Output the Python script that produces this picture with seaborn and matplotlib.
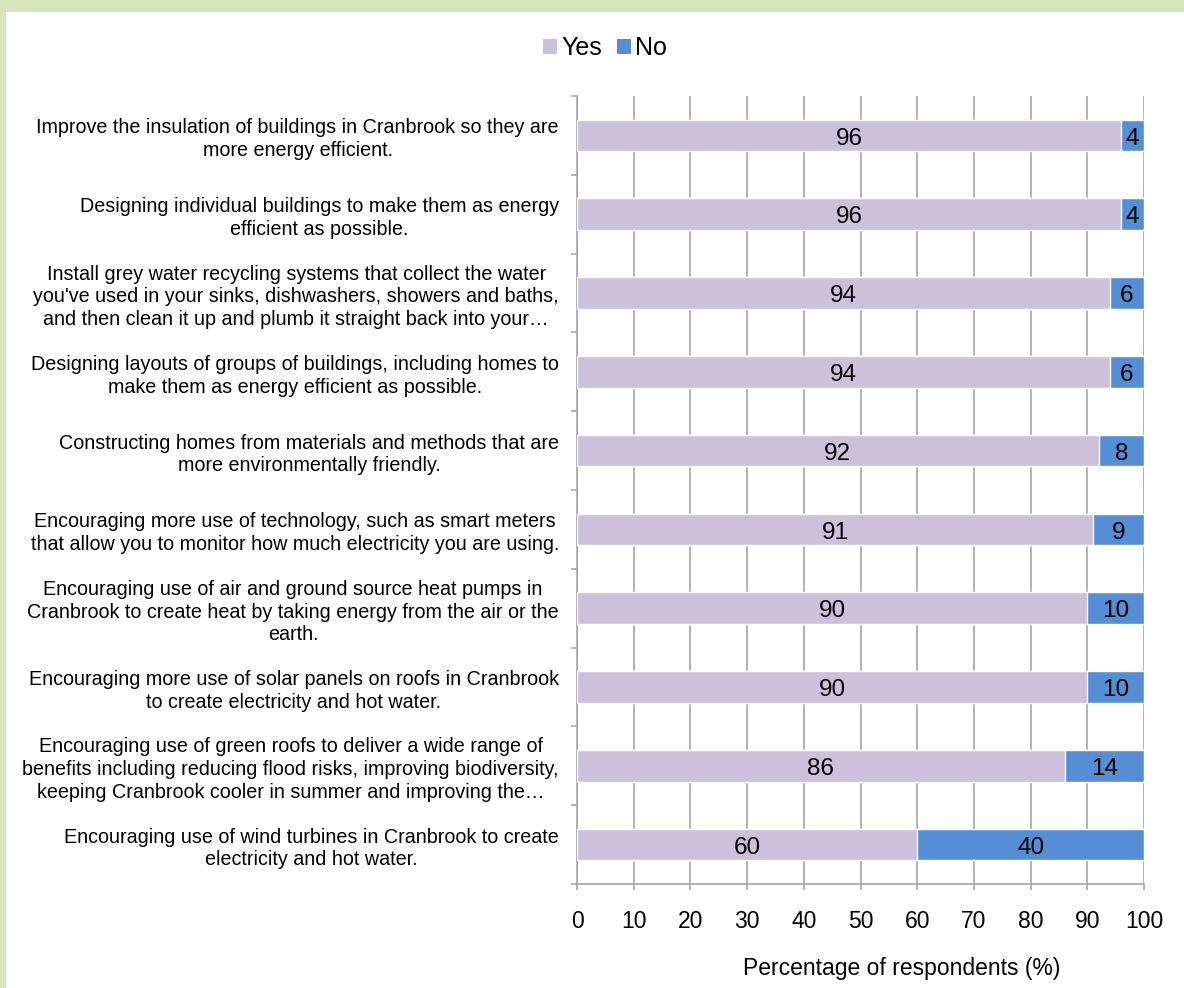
import matplotlib
matplotlib.use("Agg")
import matplotlib.pyplot as plt
from matplotlib.patches import Patch
from matplotlib.ticker import FixedLocator
import seaborn as sns
import pandas as pd

measures = [
    "Improve the insulation of buildings in Cranbrook so they are\nmore energy efficient.",
    "Designing individual buildings to make them as energy\nefficient as possible.",
    "Install grey water recycling systems that collect the water\nyou've used in your sinks, dishwashers, showers and baths,\nand then clean it up and plumb it straight back into your\u2026",
    "Designing layouts of groups of buildings, including homes to\nmake them as energy efficient as possible.",
    "Constructing homes from materials and methods that are\nmore environmentally friendly.",
    "Encouraging more use of technology, such as smart meters\nthat allow you to monitor how much electricity you are using.",
    "Encouraging use of air and ground source heat pumps in\nCranbrook to create heat by taking energy from the air or the\nearth.",
    "Encouraging more use of solar panels on roofs in Cranbrook\nto create electricity and hot water.",
    "Encouraging use of green roofs to deliver a wide range of\nbenefits including reducing flood risks, improving biodiversity,\nkeeping Cranbrook cooler in summer and improving the\u2026",
    "Encouraging use of wind turbines in Cranbrook to create\nelectricity and hot water.",
]
yes_pct = [96, 96, 94, 94, 92, 91, 90, 90, 86, 60]
no_pct = [4, 4, 6, 6, 8, 9, 10, 10, 14, 40]

YES_COLOR = "#ccc1da"
NO_COLOR = "#558ed5"
GRID_COLOR = "#a6a6a6"
FRAME_COLOR = "#d8e4bc"

df = pd.DataFrame({"measure": measures, "Yes": yes_pct, "No": no_pct})
df["total"] = df["Yes"] + df["No"]

sns.set_style("white")
plt.rcParams["font.family"] = ["Liberation Sans", "DejaVu Sans"]
plt.rcParams["text.color"] = "black"
plt.rcParams["axes.labelcolor"] = "black"
plt.rcParams["xtick.color"] = "black"
plt.rcParams["ytick.color"] = "black"

fig = plt.figure(figsize=(11.84, 9.88), dpi=100)
fig.patch.set_facecolor(FRAME_COLOR)

# white panel inside the green frame
bg = fig.add_axes([6 / 1184, 0, 1 - 6 / 1184, 1 - 12 / 988], zorder=-10)
bg.set_facecolor("white")
bg.set_xticks([])
bg.set_yticks([])
for s in bg.spines.values():
    s.set_visible(False)

ax = fig.add_axes([577 / 1184, 1 - 884 / 988, (1144 - 577) / 1184, (884 - 96) / 988])
ax.set_facecolor("none")

# stacked horizontal bars: full-length "No" underneath, "Yes" drawn on top
sns.barplot(data=df, y="measure", x="total", orient="h", color=NO_COLOR,
            width=0.4, saturation=1, ax=ax, zorder=2)
sns.barplot(data=df, y="measure", x="Yes", orient="h", color=YES_COLOR,
            width=0.4, saturation=1, ax=ax, zorder=3)

for i, (y, n) in enumerate(zip(yes_pct, no_pct)):
    ax.text(y / 2, i + 0.04, str(y), ha="center", va="center", fontsize=17.5,
            color="black", zorder=5)
    ax.text(y + n / 2, i + 0.04, str(n), ha="center", va="center", fontsize=17.5,
            color="black", zorder=5)

ax.set_xlim(0, 100)
ax.set_ylim(len(measures) - 0.5, -0.5)
ax.set_xticks(range(0, 101, 10))
ax.set_xticklabels([str(v) for v in range(0, 101, 10)], fontsize=16.5)
ax.xaxis.grid(True, color=GRID_COLOR, linewidth=1.2, zorder=0)
ax.set_axisbelow(True)

ax.set_yticks(range(len(measures)))
ax.set_yticklabels(measures, fontsize=14.2, multialignment="center",
                   linespacing=1.25)
ax.tick_params(axis="y", which="major", length=0, pad=13)
ax.yaxis.set_minor_locator(FixedLocator([i - 0.5 for i in range(len(measures) + 1)]))
ax.tick_params(axis="y", which="minor", left=True, length=4, color=GRID_COLOR,
               width=1.2, direction="out")
ax.tick_params(axis="x", which="major", bottom=True, length=4, color=GRID_COLOR,
               width=1.2, pad=15, direction="out")

for side in ("top", "right"):
    ax.spines[side].set_visible(False)
for side in ("left", "bottom"):
    ax.spines[side].set_color(GRID_COLOR)
    ax.spines[side].set_linewidth(1.2)

ax.set_ylabel("")
ax.set_xlabel("Percentage of respondents (%)", fontsize=16.5)
ax.xaxis.set_label_coords((902 - 577) / 567, -(968 - 884) / 788, transform=ax.transAxes)
ax.xaxis.label.set_va("center")

handles = [Patch(facecolor=YES_COLOR, edgecolor="none", label="Yes"),
           Patch(facecolor=NO_COLOR, edgecolor="none", label="No")]
fig.legend(handles=handles, loc="center", bbox_to_anchor=(605 / 1184, 1 - 48 / 988),
           ncol=2, frameon=False, fontsize=18, handlelength=0.56,
           handleheight=0.56, handletextpad=0.15, columnspacing=0.6)

fig.savefig("out.png", dpi=100)
